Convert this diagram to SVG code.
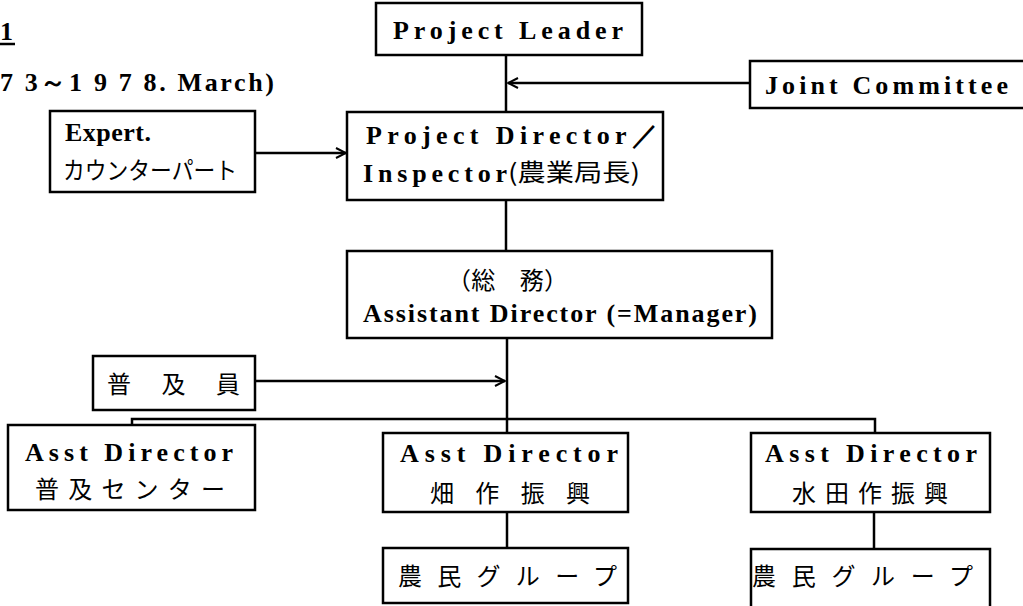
<svg xmlns="http://www.w3.org/2000/svg" width="1023" height="606" viewBox="0 0 1023 606">
<defs>
<style>
.box{fill:#fff;stroke:#000;stroke-width:2.5}
.ln{fill:none;stroke:#000;stroke-width:2.5}
.en{font-family:"Liberation Serif","DejaVu Serif",serif;font-weight:bold;font-size:26px;fill:#000}
.jp{font-family:"Noto Sans CJK JP","Noto Sans CJK SC",sans-serif;font-size:24px;fill:#000}
</style>
<marker id="arr" viewBox="0 0 12 12" refX="11" refY="6" markerWidth="12" markerHeight="12" markerUnits="userSpaceOnUse" orient="auto">
<polyline points="1,1 11,6 1,11" fill="none" stroke="#000" stroke-width="2"/>
</marker>
</defs>
<rect width="1023" height="606" fill="#fff"/>
<g id="title">
<text class="en" x="0" y="40" font-size="30">1</text>
<line x1="0" y1="44" x2="15" y2="44" stroke="#000" stroke-width="2.5"/>
<text class="en" x="0" y="91" font-size="25" textLength="274" lengthAdjust="spacing">7 3～1 9 7 8. March)</text>
</g>
<g id="connectors">
<line class="ln" x1="506" y1="55" x2="506" y2="112"/>
<line class="ln" x1="750" y1="83" x2="508" y2="83" marker-end="url(#arr)"/>
<line class="ln" x1="255" y1="153" x2="346" y2="153" marker-end="url(#arr)"/>
<line class="ln" x1="506" y1="200" x2="506" y2="251"/>
<line class="ln" x1="507" y1="338" x2="507" y2="433"/>
<line class="ln" x1="255" y1="381" x2="505" y2="381" marker-end="url(#arr)"/>
<polyline class="ln" points="132,425 132,419 875,419 875,433"/>
<line class="ln" x1="507" y1="512" x2="507" y2="548"/>
<line class="ln" x1="874" y1="512" x2="874" y2="549"/>
</g>
<g id="project-leader">
<rect class="box" x="376" y="3" width="266" height="52"/>
<text class="en" x="393" y="39" textLength="230" lengthAdjust="spacing">Project Leader</text>
</g>
<g id="joint-committee">
<rect class="box" x="750" y="61" width="290" height="47"/>
<text class="en" x="765" y="94" textLength="243" lengthAdjust="spacing">Joint Committee</text>
</g>
<g id="expert">
<rect class="box" x="50" y="111" width="205" height="81"/>
<text class="en" x="65" y="141" textLength="86" lengthAdjust="spacing">Expert.</text>
<text class="jp" x="63" y="179" textLength="174" lengthAdjust="spacingAndGlyphs">カウンターパート</text>
</g>
<g id="project-director">
<rect class="box" x="347" y="112" width="316" height="88"/>
<text class="en" x="366" y="144" textLength="292" lengthAdjust="spacing">Project Director／</text>
<text class="en" x="363" y="182" textLength="144" lengthAdjust="spacing">Inspector</text>
<text class="jp" x="508" y="181" textLength="132" lengthAdjust="spacingAndGlyphs">(農業局長)</text>
</g>
<g id="assistant-director">
<rect class="box" x="347" y="251" width="425" height="87"/>
<text class="jp" x="447" y="289" textLength="121" lengthAdjust="spacing">（総　務）</text>
<text class="en" x="363" y="322" textLength="394" lengthAdjust="spacing">Assistant Director (=Manager)</text>
</g>
<g id="fukyuin">
<rect class="box" x="93" y="356" width="162" height="54"/>
<text class="jp" x="107" y="393" textLength="133" lengthAdjust="spacing">普及員</text>
</g>
<g id="asst-left">
<rect class="box" x="8" y="425" width="247" height="85"/>
<text class="en" x="25" y="461" textLength="208" lengthAdjust="spacing">Asst Director</text>
<text class="jp" x="35" y="498" font-size="22" textLength="190" lengthAdjust="spacing">普及センター</text>
</g>
<g id="asst-middle">
<rect class="box" x="383" y="433" width="245" height="79"/>
<text class="en" x="400" y="462" textLength="218" lengthAdjust="spacing">Asst Director</text>
<text class="jp" x="430" y="502" textLength="160" lengthAdjust="spacing">畑作振興</text>
</g>
<g id="asst-right">
<rect class="box" x="751" y="433" width="239" height="79"/>
<text class="en" x="765" y="462" textLength="212" lengthAdjust="spacing">Asst Director</text>
<text class="jp" x="792" y="502" textLength="156" lengthAdjust="spacing">水田作振興</text>
</g>
<g id="farmers-middle">
<rect class="box" x="383" y="548" width="245" height="55"/>
<text class="jp" x="398" y="585" textLength="219" lengthAdjust="spacing">農民グループ</text>
</g>
<g id="farmers-right">
<rect class="box" x="751" y="549" width="239" height="62"/>
<text class="jp" x="752" y="585" textLength="221" lengthAdjust="spacing">農民グループ</text>
</g>
</svg>
